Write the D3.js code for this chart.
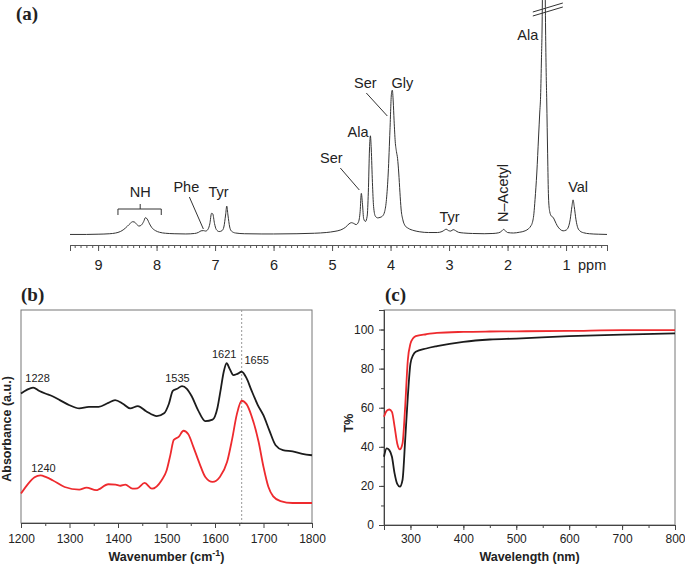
<!DOCTYPE html>
<html>
<head>
<meta charset="utf-8">
<script src="https://cdn.jsdelivr.net/npm/d3@7"></script>
<style>
  body { margin: 0; background: #fff; }
  text { font-family: "Liberation Sans", Arial, sans-serif; fill: #222; }
  .panel-tag { font-family: "Liberation Serif", "Times New Roman", serif; font-weight: bold; font-size: 19px; }
  .ttl { font-weight: bold; font-size: 12.5px; }
</style>
</head>
<body>
<div id="chart"></div>
<script>
// (a) 1H NMR spectrum: chemical shift (ppm) and intensity
const nmrPpm = [9.48,9.2,9.0,8.8,8.7,8.62,8.56,8.5,8.45,8.41,8.38,8.34,8.3,8.26,8.22,8.19,8.16,8.12,8.08,8.02,7.95,7.85,7.7,7.5,7.35,7.28,7.24,7.2,7.16,7.12,7.09,7.06,7.04,7.01,6.98,6.93,6.88,6.85,6.82,6.8,6.78,6.75,6.72,6.65,6.5,6.2,6.0,5.6,5.3,5.1,4.95,4.85,4.77,4.71,4.67,4.63,4.59,4.55,4.52,4.5,4.48,4.46,4.43,4.4,4.38,4.36,4.345,4.33,4.31,4.29,4.26,4.22,4.18,4.14,4.1,4.07,4.04,4.01,3.985,3.97,3.955,3.94,3.92,3.9,3.88,3.86,3.84,3.82,3.79,3.75,3.7,3.6,3.5,3.35,3.2,3.12,3.08,3.05,3.01,2.97,2.93,2.89,2.84,2.75,2.6,2.4,2.25,2.15,2.1,2.07,2.04,2.0,1.9,1.8,1.7,1.64,1.6,1.58,1.55,1.53,1.5,1.47,1.45,1.435,1.42,1.41,1.4,1.39,1.38,1.37,1.36,1.35,1.34,1.33,1.315,1.3,1.28,1.25,1.22,1.19,1.15,1.1,1.05,1.0,0.96,0.93,0.9,0.88,0.86,0.83,0.8,0.76,0.7,0.6,0.45,0.3];
const nmrInt = [4.4,4.4,4.5,4.7,5.0,5.6,6.5,7.8,9.0,9.7,9.6,8.6,7.9,8.3,9.8,11.4,10.8,8.8,7.2,6.0,5.3,4.9,4.7,4.6,4.8,5.3,5.9,6.0,5.8,6.6,8.8,13.2,13.0,9.0,6.5,5.6,6.0,7.5,12.5,16.2,12.5,7.5,5.8,5.0,4.7,4.6,4.6,4.7,4.9,5.2,5.7,6.3,7.4,8.8,9.3,9.0,8.5,9.5,14,21.5,17,11,9.8,12,22,40,45.5,40,26,16,12,11.3,11.5,12,14,19,30,48,63,64.5,60,52,43,39,36,30,22,15,10.5,8,7,6,5.5,5.2,5.2,5.6,6.2,6.6,6.0,5.8,6.4,6.0,5.3,5.0,4.8,4.7,4.8,5.1,5.8,6.5,6.0,5.2,5.0,5.3,5.9,6.8,8.0,9,13,19,30,45,55,62,78,90,115,140,150,140,115,90,72,60,38,20,14,12,11.5,10,8,6.5,5.9,6.2,7.5,10.5,16,18.8,16,10.5,7.2,5.8,5.1,4.7,4.5,4.4];
const nmrTicks = [9,8,7,6,5,4,3,2,1];

// (b) FTIR spectra
const irWaveBlack = [1200,1212,1225,1238,1250,1265,1280,1300,1320,1340,1360,1380,1394,1410,1425,1441,1458,1480,1495,1505,1513,1522,1532,1542,1552,1565,1580,1595,1605,1612,1618,1624,1630,1638,1646,1655,1665,1675,1688,1700,1712,1725,1740,1760,1780,1800];
const irAbsBlack = [60.8,62.5,63.6,62.0,60.8,59.5,57.7,55.3,53.8,54.5,54.5,56.4,57.7,56.0,53.8,54.9,52.5,50.2,51.5,56.0,62.0,63.0,64.3,63.0,59.5,53.0,47.8,48.5,54.0,63.0,71.0,75.0,72.5,69.4,70.0,71.0,68.0,62.4,55.5,50.5,43.5,36.5,34.2,33.6,32.5,31.8];
const irWaveRed = [1200,1215,1228,1240,1252,1265,1290,1320,1335,1355,1380,1395,1405,1415,1430,1440,1455,1470,1490,1500,1508,1515,1525,1535,1545,1555,1568,1580,1595,1610,1625,1635,1645,1655,1665,1675,1690,1700,1710,1720,1735,1760,1800];
const irAbsRed = [13.8,18.5,21.5,22.4,21.5,20.1,16.9,15.7,16.6,15.4,18.2,18.0,17.5,18.0,16.1,16.3,18.8,16.1,20.1,24.5,32.0,39.0,40.4,43.3,41.7,36.0,28.0,21.6,19.3,21.6,28.7,39.0,51.0,57.4,55.8,50.5,38.0,26.3,17.0,12.5,10.3,9.4,9.4];
const irTicks = [1200,1300,1400,1500,1600,1700,1800];
const irPeaks = [["1228", 1228], ["1535", 1535], ["1621", 1621], ["1655", 1655], ["1240", 1240]];

// (c) UV-vis transmittance
const uvWave = [250,255,260,265,270,275,280,285,290,295,300,305,310,330,350,400,450,500,600,700,800];
const uvBlack = [34.9,39.2,38.3,34.9,26.4,21.0,19.6,23.0,43.4,65.6,82.6,86.9,88.6,90.3,91.5,93.7,94.9,95.4,96.6,97.4,98.0];
const uvRed = [55.4,58.4,59.1,57.9,50.3,41.7,38.7,41.7,60.5,84.3,92.8,95.5,96.6,97.6,98.3,98.8,99.0,99.1,99.3,99.7,99.7];
const uvYTicks = [0,20,40,60,80,100];
const uvXTicks = [300,400,500,600,700,800];

const W = 685, H = 565;
const svg = d3.select("#chart").append("svg").attr("width", W).attr("height", H);
svg.append("rect").attr("width", W).attr("height", H).attr("fill", "#fff");

const BLACK = "#1c1c1c", RED = "#ee2a2e", BOX = "#777";

// ---------- panel (a) ----------
const xa = d3.scaleLinear().domain([9.48, 0.3]).range([70, 607]);
const ya = d3.scaleLinear().domain([0, 100]).range([245, 5]);

svg.append("text").attr("class", "panel-tag").attr("x", 16).attr("y", 20).text("(a)");

const gaMinor = svg.append("g").attr("transform", "translate(0,245)")
  .call(d3.axisBottom(xa).tickValues(d3.range(3, 95).map(d => d / 10)).tickSize(3).tickFormat(""));
const gaMajor = svg.append("g").attr("transform", "translate(0,245)")
  .call(d3.axisBottom(xa).tickValues(nmrTicks).tickSize(6).tickPadding(9).tickFormat(d3.format("d")));
[gaMinor, gaMajor].forEach(g => {
  g.selectAll("line").attr("stroke", "#555");
  g.select(".domain").attr("stroke", "#555");
});
gaMajor.selectAll("text").attr("font-size", 14.5).attr("font-family", "Liberation Sans, Arial, sans-serif").attr("fill", "#222");
svg.append("text").attr("x", xa(1) + 12).attr("y", 270).attr("font-size", 14.5).text("ppm");

const nmrData = nmrPpm.map((p, i) => [p, nmrInt[i]]);
svg.append("path").datum(nmrData)
  .attr("fill", "none").attr("stroke", "#333").attr("stroke-width", 1)
  .attr("d", d3.line().x(d => xa(d[0])).y(d => ya(d[1])).curve(d3.curveMonotoneX));

// break marks on the tall Ala peak
const ax = xa(1.38);
[0, 4].forEach(o => {
  svg.append("line").attr("x1", ax - 11).attr("y1", 16 - o).attr("x2", ax + 19).attr("y2", 7 - o)
    .attr("stroke", "#333").attr("stroke-width", 1);
});

const la = svg.append("g").attr("font-size", 14.5).attr("text-anchor", "middle");
function lab(t, x, y) { la.append("text").attr("x", x).attr("y", y).text(t); }
lab("NH", xa(8.28), 197);
lab("Phe", xa(7.20) - 17, 192);
lab("Tyr", xa(6.94), 197);
lab("Ser", xa(4.50) - 30, 163);
lab("Ala", xa(4.35) - 12, 137);
lab("Ser", xa(3.97) - 27, 88);
lab("Gly", xa(3.97) + 10, 88);
lab("Tyr", xa(2.99), 222);
lab("Ala", xa(1.38) - 16, 40);
lab("Val", xa(0.88) + 5, 192);
la.append("text").attr("transform", `translate(${xa(2.07) + 5},193) rotate(-90)`).text("N\u2013Acetyl");

// bracket and pointer lines
const ink = svg.append("g").attr("stroke", "#333").attr("fill", "none").attr("stroke-width", 1);
ink.append("path").attr("d", `M${xa(8.66)},215V209H${xa(7.92)}V215M${xa(8.28)},209V204`);
ink.append("line").attr("x1", xa(7.2) - 14).attr("y1", 197).attr("x2", xa(7.2)).attr("y2", 229);
ink.append("line").attr("x1", xa(4.5) - 21).attr("y1", 168).attr("x2", xa(4.5) - 2).attr("y2", 190);
ink.append("line").attr("x1", xa(3.97) - 26).attr("y1", 93).attr("x2", xa(3.97) - 5).attr("y2", 116);

// ---------- panel (b) ----------
const xb = d3.scaleLinear().domain([1200, 1800]).range([21, 312]);
const yb = d3.scaleLinear().domain([0, 100]).range([523, 310]);

svg.append("text").attr("class", "panel-tag").attr("x", 21).attr("y", 301).text("(b)");
svg.append("rect").attr("x", 21).attr("y", 310).attr("width", 291).attr("height", 213)
  .attr("fill", "none").attr("stroke", BOX).attr("stroke-width", 1);

const gbMinor = svg.append("g").attr("transform", "translate(0,523)")
  .call(d3.axisBottom(xb).tickValues(d3.range(1250, 1800, 100)).tickSize(3).tickFormat(""));
const gbMajor = svg.append("g").attr("transform", "translate(0,523)")
  .call(d3.axisBottom(xb).tickValues(irTicks).tickSize(5).tickPadding(6).tickFormat(d3.format("d")));
[gbMinor, gbMajor].forEach(g => {
  g.selectAll("line").attr("stroke", "#444");
  g.select(".domain").attr("stroke", "#444");
});
gbMajor.selectAll("text").attr("font-size", 12).attr("font-family", "Liberation Sans, Arial, sans-serif").attr("fill", "#222");

svg.append("line").attr("x1", xb(1655)).attr("x2", xb(1655)).attr("y1", 310).attr("y2", 523)
  .attr("stroke", "#999").attr("stroke-dasharray", "2,2");

const lineB = d3.line().x(d => xb(d[0])).y(d => yb(d[1])).curve(d3.curveMonotoneX);
svg.append("path").datum(irWaveBlack.map((w, i) => [w, irAbsBlack[i]]))
  .attr("fill", "none").attr("stroke", BLACK).attr("stroke-width", 1.8).attr("d", lineB);
svg.append("path").datum(irWaveRed.map((w, i) => [w, irAbsRed[i]]))
  .attr("fill", "none").attr("stroke", RED).attr("stroke-width", 1.8).attr("d", lineB);

const peakY = { "1228": 382, "1535": 382, "1621": 358, "1655": 364, "1240": 472 };
const peakDx = { "1228": 3, "1535": -6, "1621": -1, "1655": 15, "1240": 3 };
svg.append("g").attr("font-size", 11).attr("text-anchor", "middle")
  .selectAll("text").data(irPeaks).join("text")
  .attr("x", d => xb(d[1]) + peakDx[d[0]]).attr("y", d => peakY[d[0]]).text(d => d[0]);

const tb = svg.append("text").attr("class", "ttl").attr("x", xb(1500)).attr("y", 561).attr("text-anchor", "middle");
tb.append("tspan").text("Wavenumber (cm");
tb.append("tspan").attr("dy", -5).attr("font-size", 9).text("-1");
tb.append("tspan").attr("dy", 5).text(")");
svg.append("text").attr("class", "ttl").attr("font-size", 12).attr("transform", "translate(11,429) rotate(-90)")
  .attr("text-anchor", "middle").text("Absorbance (a.u.)");

// ---------- panel (c) ----------
const xc = d3.scaleLinear().domain([250, 800]).range([384, 675]);
const yc = d3.scaleLinear().domain([0, 110]).range([525, 310]);

svg.append("text").attr("class", "panel-tag").attr("x", 385).attr("y", 301).text("(c)");
svg.append("rect").attr("x", 384).attr("y", 310).attr("width", 291).attr("height", 215)
  .attr("fill", "none").attr("stroke", BOX).attr("stroke-width", 1);

const gcxMinor = svg.append("g").attr("transform", "translate(0,525)")
  .call(d3.axisBottom(xc).tickValues(d3.range(250, 801, 50)).tickSize(3).tickFormat(""));
const gcxMajor = svg.append("g").attr("transform", "translate(0,525)")
  .call(d3.axisBottom(xc).tickValues(uvXTicks).tickSize(5).tickPadding(4).tickFormat(d3.format("d")));
const gcyMinor = svg.append("g").attr("transform", "translate(384,0)")
  .call(d3.axisLeft(yc).tickValues(d3.range(0, 111, 10)).tickSize(3).tickFormat(""));
const gcyMajor = svg.append("g").attr("transform", "translate(384,0)")
  .call(d3.axisLeft(yc).tickValues(uvYTicks).tickSize(5).tickPadding(5).tickFormat(d3.format("d")));
[gcxMinor, gcxMajor, gcyMinor, gcyMajor].forEach(g => {
  g.selectAll("line").attr("stroke", "#444");
  g.select(".domain").attr("stroke", "#444");
});
[gcxMajor, gcyMajor].forEach(g => g.selectAll("text").attr("font-size", 12)
  .attr("font-family", "Liberation Sans, Arial, sans-serif").attr("fill", "#222"));

const lineC = d3.line().x(d => xc(d[0])).y(d => yc(d[1])).curve(d3.curveMonotoneX);
svg.append("path").datum(uvWave.map((w, i) => [w, uvBlack[i]]))
  .attr("fill", "none").attr("stroke", BLACK).attr("stroke-width", 1.8).attr("d", lineC);
svg.append("path").datum(uvWave.map((w, i) => [w, uvRed[i]]))
  .attr("fill", "none").attr("stroke", RED).attr("stroke-width", 1.8).attr("d", lineC);

svg.append("text").attr("class", "ttl").attr("x", xc(525)).attr("y", 561).attr("text-anchor", "middle").text("Wavelength (nm)");
svg.append("text").attr("class", "ttl").attr("transform", "translate(353,423) rotate(-90)")
  .attr("text-anchor", "middle").text("T%");
</script>
</body>
</html>
